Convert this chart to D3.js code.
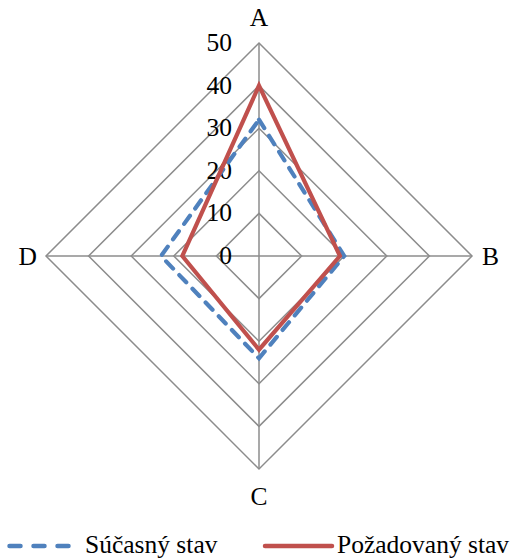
<!DOCTYPE html>
<html>
<head>
<meta charset="utf-8">
<script src="https://cdn.jsdelivr.net/npm/d3@7/dist/d3.min.js"></script>
<style>
  html, body { margin: 0; padding: 0; background: #fff; }
  svg { display: block; }
  text { font-family: "Liberation Serif", "Times New Roman", serif; fill: #000; }
</style>
</head>
<body>
<script>
// Radar chart data
const axesNames = ["A", "B", "C", "D"];
const tickValues = [0, 10, 20, 30, 40, 50];
const seriesNames = ["Súčasný stav", "Požadovaný stav"];
const currentState = [32, 20, 24, 23];
const targetState = [40, 19, 22, 18];

const W = 520, H = 560;
const cx = 259, cy = 256, R = 213;
const FS = 25.5;

const svg = d3.select("body").append("svg").attr("width", W).attr("height", H);

const r = d3.scaleLinear().domain([0, 50]).range([0, R]);
const angle = d3.scalePoint().domain(axesNames).range([0, 2 * Math.PI * 3 / 4]);

const pt = (name, v) => {
  const a = angle(name);
  return [cx + r(v) * Math.sin(a), cy - r(v) * Math.cos(a)];
};

const grid = svg.append("g");
// concentric rings
tickValues.slice(1).forEach(t => {
  grid.append("path")
    .attr("d", d3.line()(axesNames.map(n => pt(n, t))) + "Z")
    .attr("fill", "none").attr("stroke", "#8c8c8c").attr("stroke-width", 1.5);
});
// spokes
axesNames.forEach(n => {
  const [x, y] = pt(n, 50);
  grid.append("line").attr("x1", cx).attr("y1", cy).attr("x2", x).attr("y2", y)
    .attr("stroke", "#8c8c8c").attr("stroke-width", 1.5);
});

// tick labels along the A axis
svg.append("g").selectAll("text").data(tickValues).join("text")
  .attr("x", cx - 27).attr("y", d => cy - r(d) + 8)
  .attr("text-anchor", "end").attr("font-size", FS)
  .text(d => d);

// category labels
const labelPos = {
  A: [cx, 26, "middle"],
  B: [482, cy + 9, "start"],
  C: [cx, 505, "middle"],
  D: [37, cy + 9, "end"]
};
axesNames.forEach(n => {
  const [x, y, anc] = labelPos[n];
  svg.append("text").attr("x", x).attr("y", y).attr("text-anchor", anc)
    .attr("font-size", FS).text(n);
});

const styles = [
  { color: "#4f81bd", dash: "10,9", cap: "round" },
  { color: "#c0504d", dash: null, cap: "butt" }
];
[currentState, targetState].forEach((vals, i) => {
  svg.append("path")
    .attr("d", d3.line()(axesNames.map((n, j) => pt(n, vals[j]))) + "Z")
    .attr("fill", "none")
    .attr("stroke", styles[i].color)
    .attr("stroke-width", 4.2)
    .attr("stroke-dasharray", styles[i].dash)
    .attr("stroke-linecap", styles[i].cap)
    .attr("stroke-linejoin", "miter");
});

// legend
const legend = [
  { x1: 9.5, x2: 68.5, tx: 85 },
  { x1: 265, x2: 332, tx: 337 }
];
legend.forEach((l, i) => {
  const g = svg.append("g");
  g.append("line").attr("x1", l.x1).attr("x2", l.x2).attr("y1", 546).attr("y2", 546)
    .attr("stroke", styles[i].color).attr("stroke-width", 4.5)
    .attr("stroke-dasharray", styles[i].dash ? "11,13" : null)
    .attr("stroke-linecap", "round");
  g.append("text").attr("x", l.tx).attr("y", 553).attr("font-size", FS).text(seriesNames[i]);
});
</script>
</body>
</html>
